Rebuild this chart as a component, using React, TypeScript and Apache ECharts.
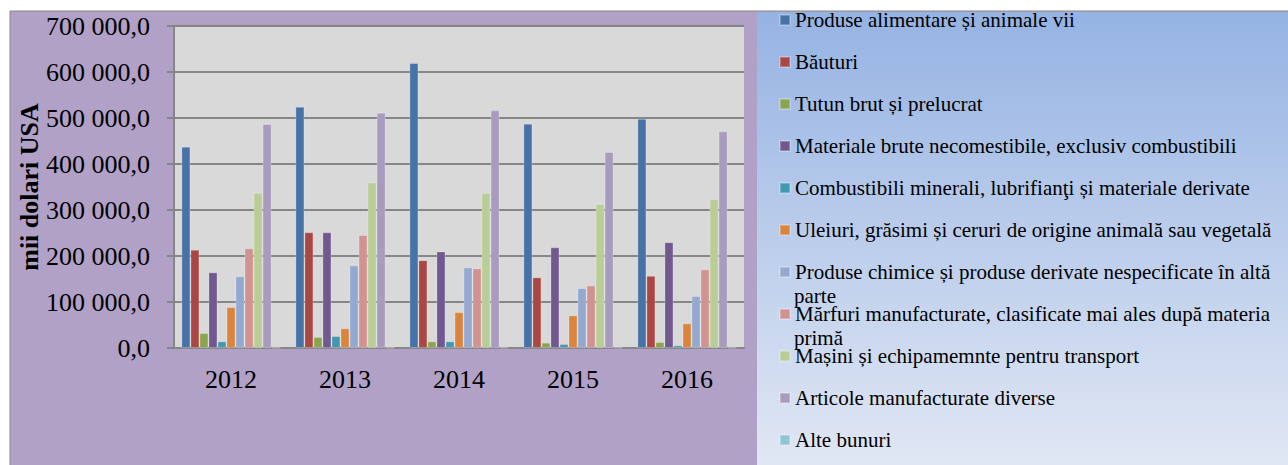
import React, { useEffect, useRef } from "react";
import * as echarts from "echarts";

const years = ["2012", "2013", "2014", "2015", "2016"];
const seriesNames = [
  "Produse alimentare și animale vii",
  "Băuturi",
  "Tutun brut și prelucrat",
  "Materiale brute necomestibile, exclusiv combustibili",
  "Combustibili minerali, lubrifianţi și materiale derivate",
  "Uleiuri, grăsimi și ceruri de origine animală sau vegetală",
  "Produse chimice și produse derivate nespecificate în altă",
  "Mărfuri manufacturate, clasificate mai ales după materia",
  "Mașini și echipamemnte pentru transport",
  "Articole manufacturate diverse",
  "Alte bunuri",
];
const wrapLines = ["parte", "primă"];
const colors = [
  "#4672A8", "#AA4643", "#89A54E", "#71588F", "#4198AF", "#DB843D",
  "#93A9CF", "#D19392", "#B9CD96", "#A99BBD", "#92C5D3",
];
const produseAlimentare = [437600, 524600, 619600, 487700, 498500];
const bauturi = [213700, 251400, 191000, 153600, 157000];
const tutun = [32600, 24000, 14500, 11600, 13000];
const materialeBrute = [164500, 251400, 210000, 218800, 230000];
const combustibili = [14500, 26000, 14500, 8700, 5800];
const uleiuri = [89000, 42800, 78000, 71000, 53600];
const chimice = [155800, 179700, 175400, 130000, 113000];
const marfuri = [217000, 245600, 173000, 136000, 171000];
const masini = [337600, 360000, 337000, 313000, 324000];
const articole = [487000, 511600, 516700, 426000, 471000];
const alteBunuri = [1000, 1000, 1000, 1000, 1000];
const allValues = [
  produseAlimentare, bauturi, tutun, materialeBrute, combustibili, uleiuri,
  chimice, marfuri, masini, articole, alteBunuri,
];

const FONT = '"Liberation Serif", "Times New Roman", serif';

function fmt(v: number) {
  return Math.round(v).toString().replace(/\B(?=(\d{3})+(?!\d))/g, " ") + ",0";
}

export default function App() {
  const ref = useRef<HTMLDivElement>(null);
  useEffect(() => {
    if (!ref.current) return;
    const chart = echarts.init(ref.current, null, { renderer: "svg" });
    chart.setOption({
      animation: false,
      backgroundColor: "#ffffff",
      textStyle: { fontFamily: FONT },
      graphic: [
        {
          type: "rect",
          z: -100,
          shape: { x: 10, y: 11, width: 1290, height: 460 },
          style: { fill: "#B1A1C7", stroke: "#888888", lineWidth: 1 },
        },
        {
          type: "rect",
          z: -99,
          shape: { x: 757, y: 12, width: 540, height: 460 },
          style: {
            fill: new echarts.graphic.LinearGradient(0, 0, 0, 1, [
              { offset: 0, color: "#95B3E3" },
              { offset: 1, color: "#E2E8F4" },
            ]),
          },
        },
        {
          type: "text",
          left: 794,
          top: 285,
          style: { text: wrapLines[0], font: `21px ${FONT}`, fill: "#000" },
        },
        {
          type: "text",
          left: 794,
          top: 327,
          style: { text: wrapLines[1], font: `21px ${FONT}`, fill: "#000" },
        },
      ],
      legend: {
        orient: "vertical",
        left: 779,
        top: 9,
        padding: 0,
        itemWidth: 10,
        itemHeight: 10,
        itemGap: 20,
        icon: "rect",
        textStyle: { fontFamily: FONT, fontSize: 21, color: "#000", lineHeight: 22 },
        data: seriesNames,
      },
      grid: {
        left: 174,
        top: 26,
        right: 544,
        bottom: 117,
        show: true,
        backgroundColor: "#D9D9D9",
        borderWidth: 0,
      },
      xAxis: {
        type: "category",
        data: years,
        axisLine: { lineStyle: { color: "#868686", width: 2 } },
        axisTick: { show: false },
        axisLabel: { fontFamily: FONT, fontSize: 26, color: "#000", margin: 18 },
      },
      yAxis: {
        type: "value",
        min: 0,
        max: 700000,
        interval: 100000,
        name: "mii dolari USA",
        nameLocation: "middle",
        nameRotate: 90,
        nameGap: 130,
        nameTextStyle: { fontFamily: FONT, fontSize: 26, fontWeight: "bold", color: "#000" },
        axisLine: { show: true, lineStyle: { color: "#868686", width: 2 } },
        axisTick: { show: true, inside: false, length: 7, lineStyle: { color: "#868686", width: 2 } },
        splitLine: { lineStyle: { color: "#868686", width: 2 } },
        axisLabel: {
          fontFamily: FONT,
          fontSize: 26,
          color: "#000",
          margin: 24,
          formatter: (v: number) => fmt(v),
        },
      },
      series: seriesNames.map((name, i) => ({
        type: "bar",
        name,
        data: allValues[i],
        barGap: "0%",
        barCategoryGap: "13%",
        itemStyle: { color: colors[i], borderColor: "rgba(255,255,255,0.25)", borderWidth: 1 },
      })),
    });
    return () => chart.dispose();
  }, []);
  return (
    <div
      ref={ref}
      style={{ position: "absolute", left: 0, top: 0, width: 1288, height: 465 }}
    />
  );
}
